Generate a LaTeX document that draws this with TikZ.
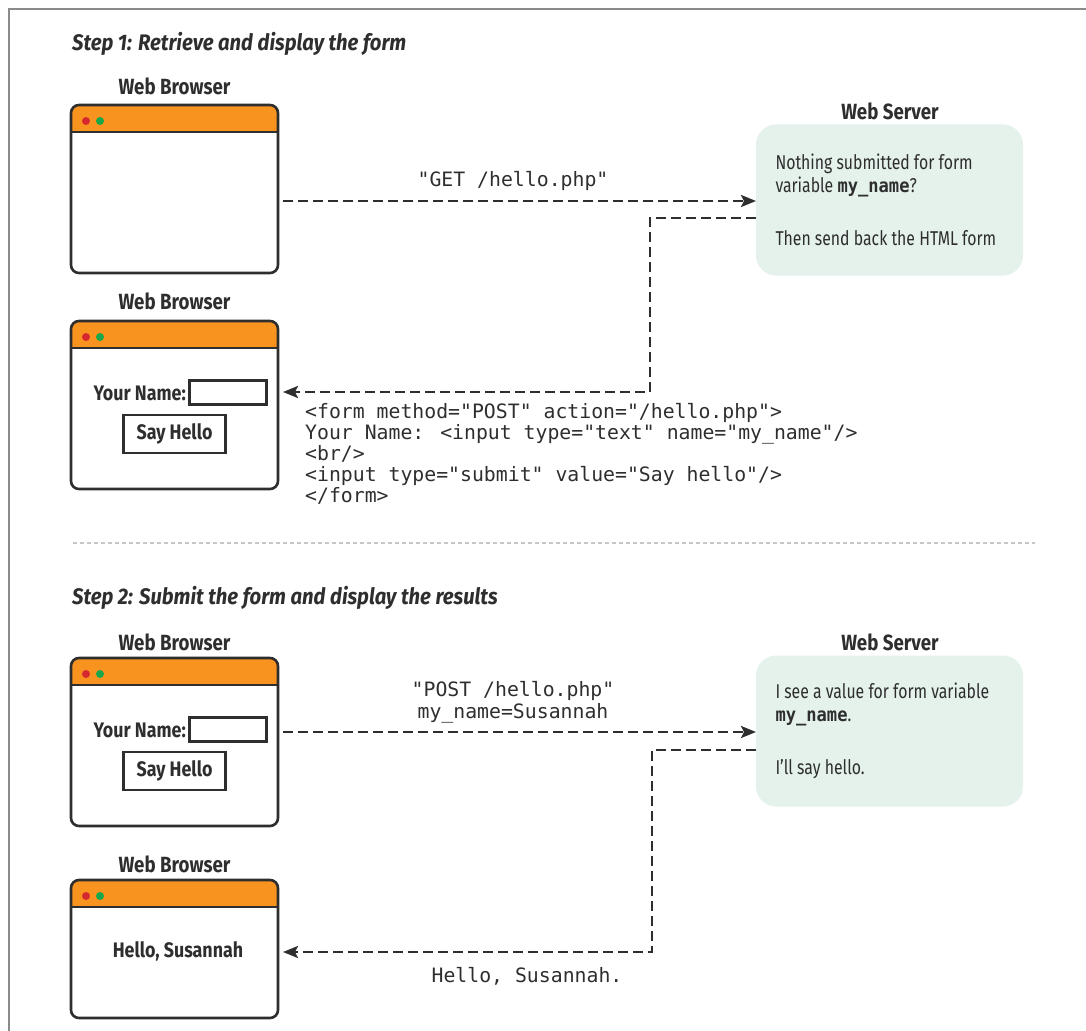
\documentclass[tikz,border=0pt]{standalone}
\usepackage{fontspec}
\setmainfont{Fira Sans}[FakeStretch=0.85]
\newfontfamily\srvfont{Fira Sans}[FakeStretch=0.79]
\newfontfamily\titlefont{Fira Sans}[FakeStretch=0.9]
\newfontfamily\codefont{DejaVu Sans Mono}
\newfontfamily\codeboldfont{DejaVu Sans Mono}[FakeStretch=0.9]
\usetikzlibrary{arrows.meta}
\definecolor{barorange}{HTML}{F7931E}
\definecolor{dotred}{HTML}{D7282F}
\definecolor{dotgreen}{HTML}{1AA64A}
\definecolor{srvfill}{HTML}{E4F2EB}
\definecolor{ink}{HTML}{2E2E2E}
\definecolor{framegray}{HTML}{8A8A8A}
\begin{document}
\begin{tikzpicture}[x=1pt,y=-1pt,
  every node/.style={text=ink},
  browser/.style={draw=ink, line width=2.6pt, fill=white, rounded corners=8pt,
    minimum width=207pt, minimum height=168pt, inner sep=0pt, outer sep=0pt,
    path picture={
      \fill[barorange, sharp corners] ([yshift=3pt]path picture bounding box.north west) rectangle ([yshift=-27pt]path picture bounding box.north east);
      \draw[ink, line width=2.6pt, sharp corners] ([yshift=-27pt]path picture bounding box.north west) -- ([yshift=-27pt]path picture bounding box.north east);
      \fill[dotred] ([xshift=15pt,yshift=-16pt]path picture bounding box.north west) circle (4pt);
      \fill[dotgreen] ([xshift=29pt,yshift=-16pt]path picture bounding box.north west) circle (4pt);
    }},
  server/.style={fill=srvfill, rounded corners=20pt, minimum width=267pt, minimum height=151pt,
    inner sep=0pt, outer sep=0pt, text width=228pt, align=flush left,
    font=\srvfont\fontsize{20}{23}\selectfont},
  lab/.style={font=\bfseries\fontsize{22}{24}\selectfont, inner sep=0pt},
  title/.style={font=\titlefont\bfseries\itshape\fontsize{22.5}{24}\selectfont, inner sep=0pt, anchor=west},
  btext/.style={font=\bfseries\fontsize{21}{23}\selectfont, inner sep=0pt},
  inbox/.style={draw=ink, line width=2.2pt, minimum width=77pt, minimum height=24pt, inner sep=0pt},
  button/.style={draw=ink, line width=2.5pt, minimum width=102pt, minimum height=38pt, inner sep=0pt,
    font=\bfseries\fontsize{21}{23}\selectfont},
  code/.style={font=\codefont\fontsize{19.8}{21}\selectfont, inner sep=0pt, align=left},
  arr/.style={draw=ink, line width=2.6pt, dash pattern=on 10pt off 5pt,
    -{Stealth[length=15pt,width=12pt,inset=3pt]}},
]
\useasboundingbox (0,0) rectangle (1086,1030);
\newcommand{\mybold}[1]{{\codeboldfont\bfseries\fontsize{19}{23}\selectfont #1}}

% frame
\draw[framegray, line width=2pt] (9,1031) -- (9,9) -- (1087,9);

% ---------- Step 1 ----------
\node[title] (h1) at (72,44) {Step 1: Retrieve and display the form};

\node[lab] (lb1) at (174.5,86) {Web Browser};
\node[browser] (b1) at (174.5,189) {};

\node[lab] (ls1) at (890,111) {Web Server};
\node[server] (s1) at (889.5,200) {Nothing submitted for form\\variable \mybold{my\_name}?\\[30pt]Then send back the HTML form};

\node[lab] (lb2) at (174.5,301) {Web Browser};
\node[browser] (b2) at (174.5,405) {};
\node[btext, anchor=east] (yn2) at (186,393) {Your Name:};
\node[inbox] (in2) at (228,392.5) {};
\node[button] (bt2) at (174.5,434) {Say Hello};

\node[code, anchor=base] (g1) at (513,186) {"GET /hello.php"};
\draw[arr] ([xshift=5pt]b1.east |- 0,201) -- (s1.west |- 0,201);
\draw[arr] (s1.west |- 0,218) -- (650,218) |- ([xshift=5pt]b2.east |- 0,392);

\node[code, anchor=north west] (c1) at (305,403) {<form method="POST" action="/hello.php">\\
Your Name: <input type="text" name="my\_name"/>\\
<br/>\\
<input type="submit" value="Say hello"/>\\
</form>};

% separator
\draw[gray!45, line width=1.5pt, dash pattern=on 4pt off 3pt] (73,543) -- (1035,543);

% ---------- Step 2 ----------
\node[title] (h2) at (72,598) {Step 2: Submit the form and display the results};

\node[lab] (lb3) at (174.5,642) {Web Browser};
\node[browser] (b3) at (174.5,742) {};
\node[btext, anchor=east] (yn3) at (186,730) {Your Name:};
\node[inbox] (in3) at (228,729.5) {};
\node[button] (bt3) at (174.5,771) {Say Hello};

\node[lab] (ls2) at (890,642) {Web Server};
\node[server] (s2) at (889.5,731) {I see a value for form variable\\\mybold{my\_name}.\\[30pt]I’ll say hello.};

\node[code, anchor=base] (g2) at (513,696) {"POST /hello.php"};
\node[code, anchor=base] (g3) at (513,718) {my\_name=Susannah};
\draw[arr] ([xshift=5pt]b3.east |- 0,732) -- (s2.west |- 0,732);

\node[lab] (lb4) at (174.5,864) {Web Browser};
\node[browser, minimum height=138pt] (b4) at (174.5,949) {};
\node[btext] (hs) at (178,951) {Hello, Susannah};

\draw[arr] (s2.west |- 0,750) -- (652,750) |- ([xshift=5pt]b4.east |- 0,952);
\node[code, anchor=base] (g4) at (527,982) {Hello, Susannah.};
\end{tikzpicture}
\end{document}
